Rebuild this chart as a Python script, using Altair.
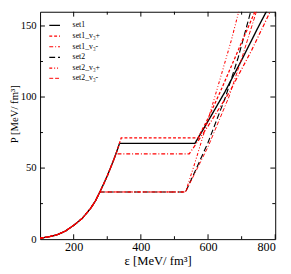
import altair as alt
import pandas as pd

# ---- data ----
series_names = ["set1", "set1_v₃+", "set1_v₃-", "set2", "set2_v₃+", "set2_v₃-"]
series_colors = ["#000000", "#ff0000", "#ff0000", "#000000", "#ff0000", "#ff0000"]
series_dash = [[1, 0], [3, 2], [4, 2, 1, 2], [6, 3], [3, 2, 1, 2, 1, 2], [4, 2, 4, 2, 1, 2]]
series_width = [1.4, 1.0, 1.0, 1.4, 1.0, 1.0]

# common hadronic branch
had_eps = [100, 125, 150, 175, 200, 225, 250, 265, 278, 290, 300, 310, 320, 328, 336, 341]
had_P = [0.7, 1.6, 3.0, 5.6, 9.7, 14.5, 21.5, 27.0, 33.2, 39.2, 44.5, 50.3, 56.3, 61.5, 67.2, 71.0]

# phase transition (plateau) per series
onset_eps = [336.5, 341.5, 326.0, 278.0, 278.0, 278.0]
onset_P = [67.4, 71.2, 60.0, 33.2, 33.2, 33.2]
plateau_end_eps = [561, 570, 544, 533, 533, 533]

# quark branch per series
post_eps = [
    [600, 650, 700, 750, 780],
    [600, 637, 700, 745],
    [600, 665, 730, 790],
    [560, 600, 652, 690, 730],
    [560, 600, 640, 670, 695],
    [560, 600, 662, 700, 750],
]
post_P = [
    [83.0, 103.5, 126.0, 149.5, 163.0],
    [85.0, 104.0, 138.5, 163.0],
    [79.5, 104.0, 133.0, 162.5],
    [47.0, 68.0, 100.0, 128.0, 162.7],
    [53.0, 84.0, 116.0, 140.5, 163.5],
    [46.0, 65.0, 100.0, 127.0, 164.7],
]

x_major = [200, 400, 600, 800]
x_minor = [300, 500, 700]
y_major = [50, 100, 150]
y_minor = [25, 75, 125]

# ---- build table ----
rows = []
for i, name in enumerate(series_names):
    pts = [(e, p) for e, p in zip(had_eps, had_P) if e < onset_eps[i] - 0.5]
    pts.append((onset_eps[i], onset_P[i]))
    pts.append((plateau_end_eps[i], onset_P[i]))
    pts += list(zip(post_eps[i], post_P[i]))
    for k, (e, p) in enumerate(pts):
        rows.append({"series": name, "eps": e, "P": p, "k": k})
df = pd.DataFrame(rows)

W, H = 242, 234
FONT = "Liberation Serif"

xscale = alt.Scale(domain=[100, 800], nice=False, zero=False)
yscale = alt.Scale(domain=[0, 160], nice=False, zero=False)

leg = alt.Legend(
    title=None, orient="none", legendX=8.5, legendY=7.5,
    symbolType="stroke", symbolSize=121, symbolStrokeWidth=1.2,
    labelFont=FONT, labelFontSize=8, labelOffset=12, rowPadding=-1,
    padding=0, labelLimit=200,
)

xaxis = alt.Axis(values=x_major, ticks=False, domain=False, grid=False,
                 labelFont=FONT, labelFontSize=12.5, labelPadding=2,
                 title="ε [MeV/ fm³]", titleFont=FONT, titleFontSize=13,
                 titleFontWeight="normal", titlePadding=2, labelColor="#000", titleColor="#000")
yaxis = alt.Axis(values=[0] + y_major, ticks=False, domain=False, grid=False,
                 labelFont=FONT, labelFontSize=11, labelPadding=4,
                 title="P [MeV/ fm³]", titleFont=FONT, titleFontSize=11,
                 titleFontWeight="normal", titlePadding=1, titleY=105,
                 labelColor="#000", titleColor="#000")

def line_layer(names):
    return alt.Chart(df).transform_filter(
        alt.FieldOneOfPredicate(field="series", oneOf=names)
    ).mark_line(clip=True).encode(
        x=alt.X("eps:Q", scale=xscale, axis=xaxis),
        y=alt.Y("P:Q", scale=yscale, axis=yaxis),
        color=alt.Color("series:N", scale=alt.Scale(domain=series_names, range=series_colors), legend=leg),
        strokeDash=alt.StrokeDash("series:N", scale=alt.Scale(domain=series_names, range=series_dash), legend=leg),
        strokeWidth=alt.StrokeWidth("series:N", scale=alt.Scale(domain=series_names, range=series_width), legend=None),
        order="k:Q",
    )

black = line_layer(["set1", "set2"])
red = line_layer(["set1_v₃+", "set1_v₃-", "set2_v₃+", "set2_v₃-"])

def xticks(vals, length):
    d = pd.DataFrame({"v": vals})
    b = alt.Chart(d).mark_rule(color="#000", strokeWidth=1).encode(
        x=alt.X("v:Q", scale=xscale, axis=xaxis), y=alt.value(H), y2=alt.value(H - length))
    t = alt.Chart(d).mark_rule(color="#000", strokeWidth=1).encode(
        x=alt.X("v:Q", scale=xscale, axis=xaxis), y=alt.value(0), y2=alt.value(length))
    return [b, t]

def yticks(vals, length):
    d = pd.DataFrame({"v": vals})
    l = alt.Chart(d).mark_rule(color="#000", strokeWidth=1).encode(
        y=alt.Y("v:Q", scale=yscale, axis=yaxis), x=alt.value(0), x2=alt.value(length))
    r = alt.Chart(d).mark_rule(color="#000", strokeWidth=1).encode(
        y=alt.Y("v:Q", scale=yscale, axis=yaxis), x=alt.value(W), x2=alt.value(W - length))
    return [l, r]

layers = xticks(x_major, 5) + xticks(x_minor, 3) + yticks(y_major, 5) + yticks(y_minor, 3) + [black, red]

chart = alt.layer(*layers).properties(
    width=W, height=H,
    autosize=alt.AutoSizeParams(type="none"),
    padding={"left": 33, "top": 0, "right": 8, "bottom": 32},
    background="white",
).configure_view(stroke="#000", strokeWidth=1)

chart.save("out.html", embed_options={"renderer": "svg", "actions": False})
